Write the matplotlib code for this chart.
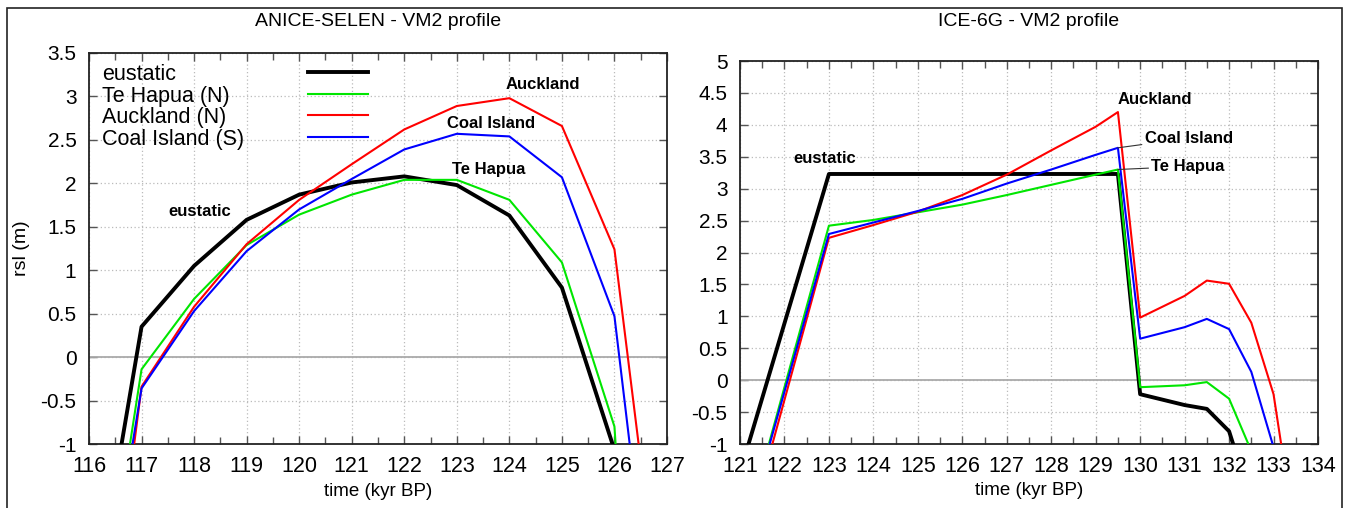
import matplotlib
matplotlib.use("Agg")
import matplotlib.pyplot as plt
from matplotlib.patches import Rectangle
from matplotlib.ticker import MultipleLocator, FormatStrFormatter

plt.rcParams['font.family'] = ['Liberation Sans', 'DejaVu Sans']

# ---------------- data ----------------
series_names = ['eustatic', 'Te Hapua (N)', 'Auckland (N)', 'Coal Island (S)']
series_colors = ['#000000', '#00e600', '#ff0000', '#0000ff']
series_widths = [2.8, 1.5, 1.5, 1.5]

# ANICE-SELEN - VM2 profile
left_time = [116, 117, 118, 119, 120, 121, 122, 123, 124, 125, 126, 127]
left_eustatic = [-3.2, 0.35, 1.05, 1.58, 1.87, 2.01, 2.08, 1.98, 1.63, 0.80, -1.07, -5.0]
left_te_hapua = [-4.05, -0.14, 0.67, 1.29, 1.64, 1.87, 2.04, 2.04, 1.81, 1.09, -0.80, -10.0]
left_auckland = [-5.05, -0.34, 0.58, 1.30, 1.81, 2.22, 2.62, 2.89, 2.98, 2.66, 1.24, -3.63]
left_coal_island = [-4.1, -0.36, 0.53, 1.22, 1.70, 2.05, 2.39, 2.57, 2.54, 2.07, 0.47, -4.6]

# ICE-6G - VM2 profile
right_time = [121, 122, 123, 124, 125, 126, 127, 128, 129, 129.5, 130, 131, 131.5, 132, 132.5, 133, 133.5]
right_eustatic = [-1.45, 0.89, 3.23, 3.23, 3.23, 3.23, 3.23, 3.23, 3.23, 3.23, -0.22, -0.39, -0.45, -0.80, -1.9, -3.0, -4.0]
right_te_hapua = [-2.65, -0.11, 2.42, 2.51, 2.63, 2.75, 2.90, 3.06, 3.22, 3.30, -0.11, -0.08, -0.03, -0.29, -1.11, -3.0, -5.0]
right_coal_island = [-2.65, -0.18, 2.29, 2.47, 2.65, 2.84, 3.08, 3.30, 3.53, 3.64, 0.65, 0.83, 0.96, 0.80, 0.13, -1.05, -3.0]
right_auckland = [-2.85, -0.31, 2.23, 2.43, 2.64, 2.90, 3.22, 3.60, 3.97, 4.20, 0.98, 1.32, 1.56, 1.51, 0.90, -0.22, -2.5]

left_titles = 'ANICE-SELEN - VM2 profile'
right_titles = 'ICE-6G - VM2 profile'
x_label = 'time (kyr BP)'
y_label = 'rsl (m)'

# ---------------- figure ----------------
W, H = 1350, 508
fig = plt.figure(figsize=(W / 100, H / 100), dpi=100)

def px_axes(x0, x1, ytop, ybot):
    return fig.add_axes([x0 / W, 1 - ybot / H, (x1 - x0) / W, (ybot - ytop) / H])

axL = px_axes(89, 667, 53, 444)
axR = px_axes(740, 1318, 61, 444)

def style(ax, xlim, ylim):
    ax.set_xlim(*xlim)
    ax.set_ylim(*ylim)
    ax.xaxis.set_major_locator(MultipleLocator(1))
    ax.xaxis.set_minor_locator(MultipleLocator(0.5))
    ax.yaxis.set_major_locator(MultipleLocator(0.5))
    ax.xaxis.set_major_formatter(FormatStrFormatter('%g'))
    ax.yaxis.set_major_formatter(FormatStrFormatter('%g'))
    ax.tick_params(which='both', direction='in', top=True, right=True,
                   color='#555555', width=1.0)
    ax.tick_params(which='major', length=6, pad=9)
    ax.tick_params(which='minor', length=5)
    ax.tick_params(axis='x', labelsize=15.5)
    ax.tick_params(axis='y', labelsize=15)
    ax.grid(True, which='major', color='#bbbbbb', linestyle=(0, (1, 2)), linewidth=0.9)
    ax.axhline(0, color='#aaaaaa', linewidth=1.3, zorder=1)
    for s in ax.spines.values():
        s.set_color('#222222')
        s.set_linewidth(1.3)
    ax.set_xlabel(x_label, fontsize=13.5)
    ax.xaxis.set_label_coords(0.5, -0.1)
    ax.set_axisbelow(True)

style(axL, (116, 127), (-1, 3.5))
style(axR, (121, 134), (-1, 5))
axL.set_ylabel(y_label, fontsize=14)
axL.yaxis.set_label_coords((30 - 89) / 578, 0.5)

left_series = [left_eustatic, left_te_hapua, left_auckland, left_coal_island]
right_series = [right_eustatic, right_te_hapua, right_auckland, right_coal_island]
for vals, c, lw in zip(left_series, series_colors, series_widths):
    axL.plot(left_time, vals, color=c, linewidth=lw, zorder=3)
for vals, c, lw in zip(right_series, series_colors, series_widths):
    axR.plot(right_time, vals, color=c, linewidth=lw, zorder=3)

# legend (gnuplot style: text left, sample right)
leg_rows = [0.9506, 0.8964, 0.8414, 0.7839]
for name, c, lw, yy in zip(series_names, series_colors, series_widths, leg_rows):
    axL.text(0.022, yy, name, transform=axL.transAxes, fontsize=15.5,
             ha='left', va='center_baseline')
    axL.plot([0.379, 0.4827], [yy, yy], transform=axL.transAxes, color=c,
             linewidth=lw, clip_on=False)

# annotations
bold = dict(fontsize=12, fontweight='bold', ha='center', va='center')
axL.text(118.11, 1.68, 'eustatic', **bold)
axL.text(124.64, 3.14, 'Auckland', **bold)
axL.text(123.66, 2.69, 'Coal Island', **bold)
axL.text(123.61, 2.16, 'Te Hapua', **bold)

axR.text(122.91, 3.47, 'eustatic', **bold)
axR.text(130.33, 4.39, 'Auckland', **bold)
axR.annotate('Coal Island', xy=(129.5, right_coal_island[9]), xytext=(130.1, 3.79),
             fontsize=12, fontweight='bold', ha='left', va='center',
             arrowprops=dict(arrowstyle='-', color='#333333', lw=0.8,
                             shrinkA=0, shrinkB=0))
axR.annotate('Te Hapua', xy=(129.5, right_te_hapua[9]), xytext=(130.25, 3.35),
             fontsize=12, fontweight='bold', ha='left', va='center',
             arrowprops=dict(arrowstyle='-', color='#333333', lw=0.8,
                             shrinkA=0, shrinkB=0))

# titles
fig.text(378 / W, 1 - 22 / H, left_titles, fontsize=14, ha='center', va='center')
fig.text(1029 / W, 1 - 22 / H, right_titles, fontsize=14, ha='center', va='center')

# outer frame (bottom edge cut off)
fig.patches.append(Rectangle((7 / W, -0.1), (1342 - 7) / W, 1 - 8 / H + 0.1,
                             transform=fig.transFigure, fill=False,
                             edgecolor='#222222', linewidth=1.2))

fig.savefig('out.png', dpi=100)
